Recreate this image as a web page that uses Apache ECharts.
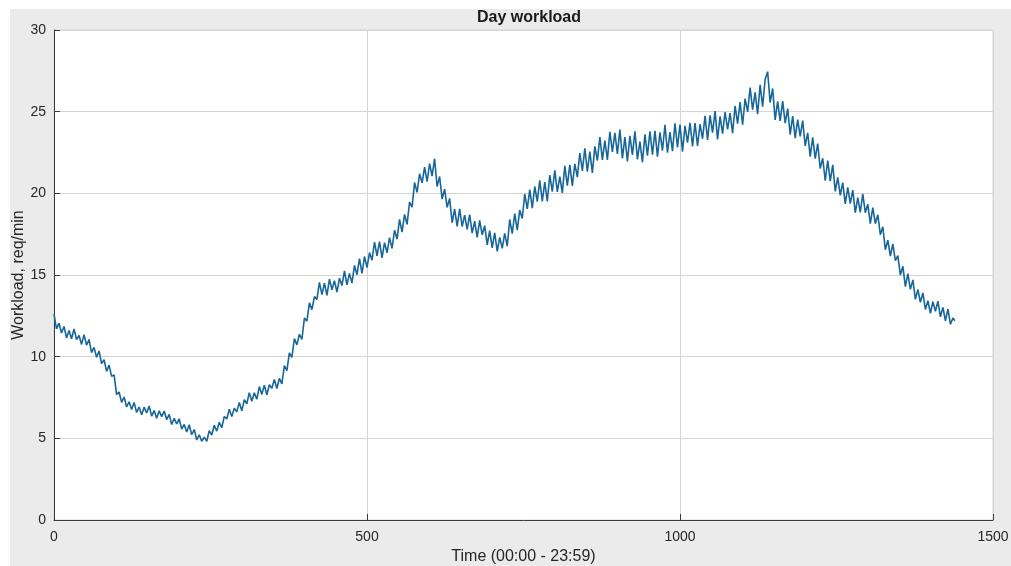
<!DOCTYPE html>
<html>
<head>
<meta charset="utf-8">
<script src="https://cdn.jsdelivr.net/npm/echarts@6/dist/echarts.min.js"></script>
<style>
html,body{margin:0;padding:0;background:#fff;}
#chart{width:1011px;height:566px;}
</style>
</head>
<body>
<div id="chart"></div>
<script>
// Sample step (minutes) and the final sample minute
const stepMinutes = 4;
const lastMinute = 1439;

// Workload (req/min), one value every 4 minutes, hour by hour
const h00 = [12.6, 11.7, 12.05, 11.45, 11.85, 11.15, 11.6, 11.1, 11.7, 11.05, 11.3, 10.75, 11.35, 10.7, 11.05];
const h01 = [10.25, 10.57, 9.96, 10.35, 9.57, 9.81, 9.1, 9.48, 8.79, 8.89, 7.68, 7.84, 7.2, 7.53, 6.92];
const h02 = [7.24, 6.77, 7.2, 6.58, 6.92, 6.45, 6.91, 6.55, 6.98, 6.36, 6.7, 6.23, 6.68, 6.33, 6.67];
const h03 = [6.15, 6.47, 5.85, 6.23, 5.88, 6.2, 5.56, 5.85, 5.39, 5.83, 5.22, 5.54, 4.9, 5.22, 4.82];
const h04 = [5.07, 4.81, 5.47, 5.2, 5.8, 5.44, 5.98, 5.65, 6.34, 6.18, 6.78, 6.33, 6.85, 6.62, 7.2];
const h05 = [6.68, 7.36, 7.12, 7.8, 7.27, 7.79, 7.4, 8.17, 7.69, 8.25, 7.66, 8.28, 8.06, 8.6, 8.05];
const h06 = [8.67, 8.33, 9.45, 9.14, 10.23, 9.95, 11.11, 10.72, 11.37, 11.05, 12.36, 12.17, 13.3, 12.88, 13.68];
const h07 = [13.5, 14.55, 13.8, 14.5, 13.75, 14.75, 14.1, 14.65, 13.95, 14.8, 14.35, 15.25, 14.4, 15.1, 14.5];
const h08 = [15.59, 15.02, 16.0, 15.1, 16.13, 15.45, 16.37, 15.91, 17.01, 16.17, 17.05, 16.05, 16.98, 16.36, 17.29];
const h09 = [16.63, 17.74, 17.2, 18.4, 17.62, 18.71, 18.1, 19.47, 19.16, 20.66, 20.06, 21.2, 20.64, 21.6, 20.72];
const h10 = [21.82, 21.06, 22.12, 20.41, 21.03, 19.65, 20.26, 19.14, 19.69, 18.2, 19.04, 17.98, 19.05, 17.97, 18.66];
const h11 = [17.79, 18.7, 17.57, 18.3, 17.3, 18.34, 17.46, 18.02, 16.84, 17.71, 16.66, 17.58, 16.45, 17.3, 16.63];
const h12 = [17.55, 16.77, 18.4, 17.53, 18.76, 17.75, 18.98, 18.46, 19.97, 19.05, 20.23, 19.1, 20.42, 19.49, 20.8];
const h13 = [19.51, 20.68, 19.5, 21.12, 20.1, 21.4, 20.09, 21.02, 20.03, 21.68, 20.47, 21.74, 20.45, 21.8, 20.99];
const h14 = [22.47, 21.37, 22.75, 21.32, 22.56, 21.25, 22.88, 22.01, 23.44, 22.05, 23.23, 22.05, 23.77, 22.54, 23.7];
const h15 = [22.42, 23.9, 22.14, 23.44, 21.95, 23.52, 22.35, 23.79, 22.08, 23.16, 21.9, 23.61, 22.31, 23.8, 22.37];
const h16 = [23.82, 22.25, 23.74, 22.62, 24.2, 22.49, 23.75, 22.58, 24.29, 22.81, 24.21, 22.55, 24.13, 23.1, 24.32];
const h17 = [22.88, 24.3, 22.9, 24.23, 23.34, 24.75, 23.27, 24.77, 23.71, 25.04, 23.3, 24.71, 23.65, 24.98, 23.92];
const h18 = [24.91, 23.68, 25.35, 24.27, 25.58, 24.2, 25.8, 24.99, 26.47, 25.12, 26.18, 24.85, 26.64, 25.3, 26.97];
const h19 = [27.45, 25.56, 26.42, 24.5, 25.63, 24.44, 25.65, 24.3, 25.19, 23.6, 24.73, 23.38, 24.51, 23.48, 24.45];
const h20 = [22.9, 23.7, 22.25, 23.43, 22.12, 23.05, 21.52, 22.15, 20.77, 22.0, 20.75, 21.75, 20.12, 20.98, 19.87];
const h21 = [20.66, 19.35, 20.37, 19.37, 20.2, 18.81, 19.74, 18.84, 19.97, 18.81, 19.33, 18.15, 19.12, 18.14, 18.69];
const h22 = [17.47, 17.95, 16.55, 17.13, 16.16, 16.9, 15.88, 16.19, 15.0, 15.53, 14.29, 15.09, 14.12, 14.7, 13.51];
const h23 = [14.11, 13.33, 13.9, 12.89, 13.43, 12.65, 13.37, 12.77, 13.4, 12.44, 13.02, 12.2, 12.91, 11.98, 12.37];
const lastValue = 12.2;

// Axis ticks
const xTicks = [0, 500, 1000, 1500];
const yTicks = [0, 5, 10, 15, 20, 25, 30];

const workload = [].concat(h00,h01,h02,h03,h04,h05,h06,h07,h08,h09,h10,h11,h12,h13,h14,h15,h16,h17,h18,h19,h20,h21,h22,h23, [lastValue]);
const minutes = workload.map((_, i) => i < workload.length - 1 ? i * stepMinutes : lastMinute);
const points = workload.map((v, i) => [minutes[i], v]);

const chart = echarts.init(document.getElementById('chart'), null, {renderer: 'canvas'});
const fontFam = 'Liberation Sans, Arial, Helvetica, sans-serif';
chart.setOption({
  animation: false,
  backgroundColor: 'transparent',
  graphic: [{
    type: 'rect', z: -10, silent: true,
    shape: {x: 10, y: 9, width: 1001, height: 557},
    style: {fill: '#ebebeb'}
  }],
  title: {
    text: 'Day workload',
    left: 524, top: 5, textAlign: 'center',
    textStyle: {fontFamily: fontFam, fontSize: 16, fontWeight: 'bold', color: '#1a1a1a'}
  },
  grid: {
    left: 54, right: 18, top: 30, bottom: 46,
    containLabel: false, outerBoundsMode: 'none',
    show: true, backgroundColor: '#ffffff', borderColor: '#d9d4d2', borderWidth: 1
  },
  xAxis: {
    type: 'value', min: xTicks[0], max: xTicks[xTicks.length - 1], interval: 500,
    name: 'Time (00:00 - 23:59)', nameLocation: 'middle', nameGap: 29, nameMoveOverlap: false,
    nameTextStyle: {fontFamily: fontFam, fontSize: 16, color: '#262626'},
    axisLine: {show: true, onZero: false, lineStyle: {color: '#3a3a3a', width: 1}},
    axisTick: {show: true, inside: true, length: 6, lineStyle: {color: '#3a3a3a'}},
    axisLabel: {fontFamily: fontFam, fontSize: 14, color: '#262626', margin: 10,
      formatter: v => String(v)},
    splitLine: {show: true, lineStyle: {color: '#d9d4d2', width: 1}}
  },
  yAxis: {
    type: 'value', min: yTicks[0], max: yTicks[yTicks.length - 1], interval: 5,
    name: 'Workload, req/min', nameLocation: 'middle', nameGap: 27, nameMoveOverlap: false,
    nameTextStyle: {fontFamily: fontFam, fontSize: 16, color: '#262626'},
    axisLine: {show: true, onZero: false, lineStyle: {color: '#3a3a3a', width: 1}},
    axisTick: {show: true, inside: true, length: 6, lineStyle: {color: '#3a3a3a'}},
    axisLabel: {fontFamily: fontFam, fontSize: 14, color: '#262626', margin: 8},
    splitLine: {show: true, lineStyle: {color: '#d9d4d2', width: 1}}
  },
  series: [{
    type: 'line', data: points, showSymbol: false, symbol: 'none',
    lineStyle: {color: '#17669a', width: 1.6}
  }]
});
</script>
</body>
</html>
